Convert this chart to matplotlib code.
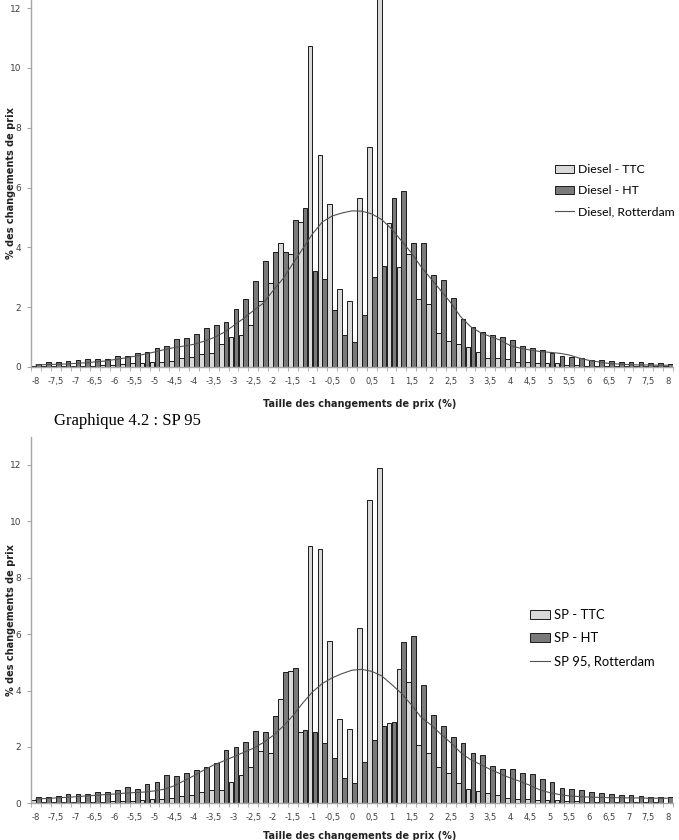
import matplotlib
matplotlib.use("Agg")
import matplotlib.pyplot as plt
import numpy as np

# Price change size categories (%), one bar pair every 0.25
categories = np.arange(-8, 8.001, 0.25)

# Graphique 4.1 : Diesel
diesel_ttc = [0.02, 0.03, 0.03, 0.04, 0.04, 0.05, 0.05, 0.06, 0.07, 0.09,
              0.12, 0.14, 0.16, 0.18, 0.20, 0.29, 0.35, 0.42, 0.47, 0.78,
              1.01, 1.07, 1.40, 2.21, 2.82, 4.16, 3.77, 4.86, 10.74, 7.09,
              5.46, 2.60, 2.21, 5.64, 7.34, 13.0, 4.80, 3.36, 3.77, 2.26,
              2.10, 1.15, 0.88, 0.78, 0.67, 0.50, 0.30, 0.29, 0.28, 0.16,
              0.16, 0.14, 0.12, 0.12, 0.08, 0.06, 0.05, 0.04, 0.04, 0.03,
              0.03, 0.03, 0.02, 0.02, 0.02]
diesel_ht = [0.09, 0.16, 0.18, 0.21, 0.23, 0.27, 0.27, 0.27, 0.38, 0.38,
             0.47, 0.49, 0.64, 0.71, 0.92, 0.98, 1.12, 1.32, 1.42, 1.51,
             1.93, 2.29, 2.88, 3.55, 3.85, 3.85, 4.92, 5.30, 3.22, 2.94,
             1.90, 1.07, 0.83, 1.74, 3.02, 3.38, 5.65, 5.88, 4.16, 4.16,
             3.07, 2.90, 2.30, 1.61, 1.35, 1.18, 1.07, 1.01, 0.89, 0.70,
             0.62, 0.57, 0.48, 0.37, 0.35, 0.31, 0.25, 0.23, 0.21, 0.18,
             0.18, 0.16, 0.14, 0.13, 0.11]
diesel_rotterdam = [0.07, 0.08, 0.09, 0.10, 0.12, 0.14, 0.17, 0.20, 0.25, 0.30,
                    0.36, 0.43, 0.50, 0.58, 0.65, 0.70, 0.76, 0.86, 0.98, 1.15,
                    1.38, 1.62, 1.88, 2.13, 2.55, 2.95, 3.45, 3.95, 4.45, 4.85,
                    5.05, 5.15, 5.22, 5.21, 5.12, 4.93, 4.62, 4.22, 3.82, 3.35,
                    2.95, 2.55, 2.15, 1.68, 1.35, 1.15, 1.02, 0.90, 0.72, 0.63,
                    0.57, 0.52, 0.49, 0.46, 0.40, 0.30, 0.22, 0.17, 0.12, 0.10,
                    0.08, 0.07, 0.07, 0.06, 0.06]

# Graphique 4.2 : SP 95
sp_ttc = [0.10, 0.05, 0.03, 0.04, 0.04, 0.05, 0.05, 0.06, 0.07, 0.08,
          0.09, 0.12, 0.14, 0.17, 0.19, 0.27, 0.29, 0.40, 0.46, 0.48,
          0.74, 1.00, 1.30, 1.87, 1.77, 3.69, 4.69, 2.54, 9.12, 9.01,
          5.74, 2.98, 2.65, 6.21, 10.76, 11.88, 2.84, 4.77, 4.29, 2.08,
          1.77, 1.28, 1.06, 0.71, 0.51, 0.44, 0.38, 0.28, 0.20, 0.17,
          0.17, 0.13, 0.11, 0.10, 0.08, 0.07, 0.06, 0.05, 0.05, 0.04,
          0.04, 0.03, 0.03, 0.03, 0.02]
sp_ht = [0.24, 0.22, 0.27, 0.33, 0.33, 0.33, 0.39, 0.41, 0.46, 0.57,
         0.52, 0.67, 0.77, 1.00, 0.98, 1.09, 1.18, 1.28, 1.42, 1.88,
         2.01, 2.16, 2.56, 2.52, 3.08, 4.65, 4.79, 2.59, 2.54, 2.13,
         1.60, 0.89, 0.71, 1.45, 2.25, 2.74, 2.87, 5.72, 5.92, 4.21,
         3.12, 2.75, 2.36, 2.13, 1.80, 1.71, 1.33, 1.21, 1.20, 1.06,
         1.04, 0.87, 0.74, 0.56, 0.51, 0.47, 0.41, 0.38, 0.33, 0.30,
         0.28, 0.25, 0.24, 0.21, 0.21]
sp_rotterdam = [0.15, 0.17, 0.19, 0.21, 0.23, 0.26, 0.28, 0.31, 0.33, 0.36,
                0.38, 0.40, 0.44, 0.50, 0.62, 0.80, 0.98, 1.18, 1.36, 1.50,
                1.65, 1.80, 1.95, 2.15, 2.40, 2.72, 3.10, 3.55, 3.95, 4.25,
                4.45, 4.60, 4.72, 4.75, 4.68, 4.52, 4.22, 3.90, 3.50, 3.05,
                2.78, 2.45, 2.15, 1.80, 1.55, 1.38, 1.20, 1.05, 0.90, 0.78,
                0.64, 0.48, 0.38, 0.31, 0.26, 0.24, 0.22, 0.21, 0.20, 0.20,
                0.19, 0.19, 0.18, 0.18, 0.18]

tick_values = np.arange(-8, 8.001, 0.5)
tick_labels = [("%g" % v).replace(".", ",") for v in tick_values]

LIGHT = "#d9d9d9"
DARK = "#7a7a7a"
EDGE = "#1a1a1a"
AXIS_GREY = "#a6a6a6"
TEXT_GREY = "#404040"

step = 0.25
bar_w = step * 0.48

fig = plt.figure(figsize=(6.79, 8.40), dpi=100)


def draw_panel(rect, ymax, ttc, ht, rotterdam, names):
    ax = fig.add_axes(rect)
    b1 = ax.bar(categories - step / 4, ttc, width=bar_w, color=LIGHT,
                edgecolor=EDGE, linewidth=0.7, label=names[0], zorder=2)
    b2 = ax.bar(categories + step / 4, ht, width=bar_w, color=DARK,
                edgecolor=EDGE, linewidth=0.7, label=names[1], zorder=2)
    l1, = ax.plot(categories, rotterdam, color="#505050", linewidth=0.8,
                  label=names[2], zorder=3)

    ax.set_xlim(-8 - step / 2, 8 + step / 2)
    ax.set_ylim(0, ymax)

    # category labels every 0.5, tick marks on every category boundary
    ax.set_xticks(tick_values)
    ax.set_xticklabels(tick_labels, fontsize=6, color=TEXT_GREY)
    ax.set_xticks(np.arange(-8 - step / 2, 8 + step, step), minor=True)
    ax.tick_params(axis="x", which="major", length=0, pad=7)
    ax.tick_params(axis="x", which="minor", length=3, color=AXIS_GREY,
                   direction="out")

    ax.set_yticks(np.arange(0, 12.1, 2))
    ax.set_yticklabels([str(v) for v in range(0, 13, 2)], fontsize=6.5,
                       color=TEXT_GREY)
    ax.tick_params(axis="y", length=3, color=AXIS_GREY, pad=4)

    for side in ["top", "right"]:
        ax.spines[side].set_visible(False)
    for side in ["left", "bottom"]:
        ax.spines[side].set_color(AXIS_GREY)
        ax.spines[side].set_linewidth(1.0)

    # y label placed by hand so it stays inside the figure
    y_mid = rect[1] + rect[3] / 2
    fig.text(11 / 679, y_mid, "% des changements de prix", rotation=90,
             ha="center", va="center", fontsize=7, fontweight="bold",
             color="#222222")
    return ax, [b1, b2, l1]


ax1, h1 = draw_panel([31 / 679, 1 - 367 / 840, 642 / 679, 367 / 840], 12.27,
                     diesel_ttc, diesel_ht, diesel_rotterdam,
                     ["Diesel - TTC", "Diesel - HT", "Diesel, Rotterdam"])
ax2, h2 = draw_panel([31 / 679, 1 - 803.3 / 840, 642 / 679, (803.3 - 437) / 840], 12.99,
                     sp_ttc, sp_ht, sp_rotterdam,
                     ["SP - TTC", "SP - HT", "SP 95, Rotterdam"])

legend_style = dict(frameon=False, handlelength=1.55, handleheight=0.65,
                    handletextpad=0.3, borderpad=0, borderaxespad=0)
ax1.legend(handles=h1, loc="upper left", bbox_to_anchor=(555 / 679, 1 - 164 / 840),
           bbox_transform=fig.transFigure, labelspacing=0.82,
           prop={"family": "Lato", "size": 8.8}, **legend_style)
ax2.legend(handles=h2, loc="upper left", bbox_to_anchor=(530 / 679, 1 - 609 / 840),
           bbox_transform=fig.transFigure, labelspacing=0.85,
           prop={"family": "Lato", "size": 9.4}, **legend_style)

fig.text(360 / 679, 1 - 404 / 840, "Taille des changements de prix (%)",
         ha="center", va="center", fontsize=7, fontweight="bold", color="#222222")
fig.text(360 / 679, 1 - 836 / 840, "Taille des changements de prix (%)",
         ha="center", va="center", fontsize=7, fontweight="bold", color="#222222")

fig.text(54 / 679, 1 - 421 / 840, "Graphique 4.2 : SP 95", ha="left", va="center",
         fontsize=12, family="Liberation Serif", color="black")

fig.savefig("out.png", dpi=100)
